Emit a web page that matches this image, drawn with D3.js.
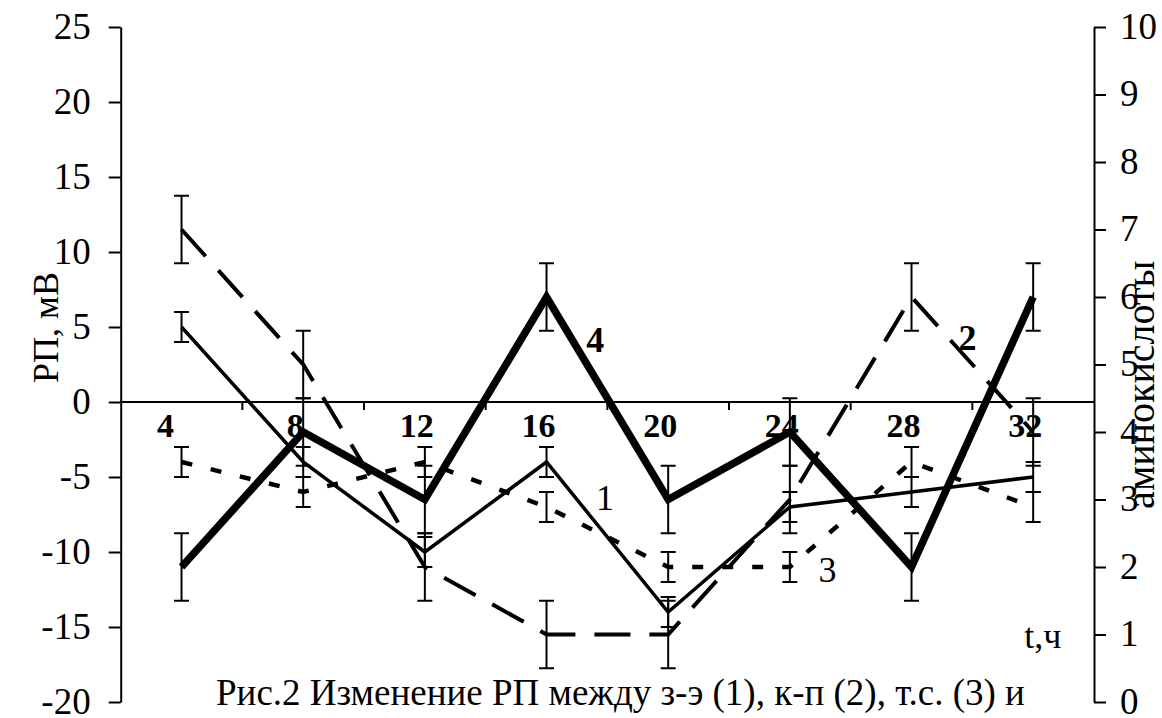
<!DOCTYPE html>
<html><head><meta charset="utf-8">
<script src="https://cdn.jsdelivr.net/npm/d3@7"></script>
<style>
body{margin:0;background:#fff;}
svg text{font-family:"Liberation Serif","Times New Roman",serif;fill:#000;}
</style></head>
<body><svg id="c" width="1162" height="718"></svg>
<script>
const categories = ["4","8","12","16","20","24","28","32"];
const leftTicks = [-20,-15,-10,-5,0,5,10,15,20,25];
const rightTicks = [0,1,2,3,4,5,6,7,8,9,10];
// series 1 (з-э), left axis, mV
const s1 = [5,-4,-10,-4,-14,-7,-6,-5];
const s1err = [1,1,1,1,1,1,1,1];
// series 2 (к-п), plotted on right axis scale
const s2 = [7,5,2,1,1,3,6,4];
const s2err = [0.5,0.5,0.5,0.5,0.5,0.5,0.5,0.5];
// series 3 (т.с.), left axis
const s3 = [-4,-6,-4,-7,-11,-11,-4,-7];
const s3err = [1,1,1,1,1,1,1,1];
// series 4 (аминокислоты), right axis
const s4 = [2,4,3,6,3,4,2,6];
const s4err = [0.5,0.5,0.5,0.5,0.5,0.5,0.5,0.5];

const svg = d3.select("#c");
const L = 120.7, R = 1094, T = 27, B = 702;
const x = d3.scaleBand().domain(categories).range([L,R]).padding(0);
const cx = c => x(c) + x.bandwidth()/2;
const xi = d3.scaleLinear().domain([0,7]).range([cx(categories[0]), cx(categories[7])]);
const yL = d3.scaleLinear().domain([-20,25]).range([B,T]);
const yR = d3.scaleLinear().domain([0,10]).range([B,T]);

// left axis
const gl = svg.append("g").attr("transform",`translate(${L},0)`)
  .call(d3.axisLeft(yL).tickValues(leftTicks).tickSize(12).tickSizeOuter(0).tickPadding(18).tickFormat(d=>String(d)));
gl.select(".domain").attr("stroke-width",2);
gl.selectAll(".tick line").attr("stroke-width",2);
gl.selectAll(".tick text").style("font-size","37px").attr("dy","0.31em");

// right axis
const gr = svg.append("g").attr("transform",`translate(${R},0)`)
  .call(d3.axisRight(yR).tickValues(rightTicks).tickSize(12).tickSizeOuter(0).tickPadding(14).tickFormat(d=>String(d)));
gr.select(".domain").attr("stroke-width",2);
gr.selectAll(".tick line").attr("stroke-width",2);
gr.selectAll(".tick text").style("font-size","37px").attr("dy","0.31em");

// zero line + category ticks
const y0 = yL(0);
svg.append("line").attr("x1",L).attr("x2",R).attr("y1",y0).attr("y2",y0).attr("stroke","#000").attr("stroke-width",2);
svg.append("g").selectAll("line").data(categories.slice(1)).join("line")
  .attr("x1",d=>x(d)).attr("x2",d=>x(d)).attr("y1",y0).attr("y2",y0+8)
  .attr("stroke","#000").attr("stroke-width",2);
svg.append("g").selectAll("text").data(categories).join("text")
  .attr("x",(d,i)=>cx(d)-(i===0?16:8)).attr("y",y0+35).attr("text-anchor","middle")
  .style("font-size","34px").style("font-weight","bold").text(d=>d);

// error bars
function errBars(vals, errs, sc){
  const g = svg.append("g").attr("stroke","#000").attr("stroke-width",2);
  vals.forEach((v,i)=>{
    const xc = cx(categories[i]);
    const a = sc(v-errs[i]), b = sc(v+errs[i]);
    g.append("line").attr("x1",xc).attr("x2",xc).attr("y1",a).attr("y2",b);
    g.append("line").attr("x1",xc-7.5).attr("x2",xc+7.5).attr("y1",a).attr("y2",a);
    g.append("line").attr("x1",xc-7.5).attr("x2",xc+7.5).attr("y1",b).attr("y2",b);
  });
}
errBars(s1,s1err,yL);
errBars(s2,s2err,yR);
errBars(s3,s3err,yL);
errBars(s4,s4err,yR);

function drawLine(vals, sc, width, dash){
  const line = d3.line().x((d,i)=>cx(categories[i])).y(d=>sc(d));
  svg.append("path").datum(vals).attr("d",line).attr("fill","none")
    .attr("stroke","#000").attr("stroke-width",width)
    .attr("stroke-dasharray",dash||null).attr("stroke-linejoin","miter");
}
drawLine(s3, yL, 4.5, "11,19");
drawLine(s2, yR, 4, "36,19");
drawLine(s1, yL, 3.5);
drawLine(s4, yR, 7.5);

// series labels
function lab(t, xv, yv, bold){
  svg.append("text").attr("x",xi(xv)).attr("y",yv).attr("text-anchor","middle")
    .style("font-size","36px").style("font-weight",bold?"bold":"normal").text(t);
}
lab("4", 3.40, yR(5.19), true);
lab("1", 3.48, yL(-7.2), false);
lab("2", 6.46, yL(3.47), true);
lab("3", 5.31, yL(-12), false);
lab("t,ч", 7.08, yL(-16.4), false);

// axis titles
svg.append("text").attr("transform",`translate(58,${(yL(5)+yL(0))/2 - 37}) rotate(-90)`)
  .attr("text-anchor","middle").style("font-size","36px").text("РП, мВ");
svg.append("text").attr("transform",`translate(1154,${yR(4.7)}) rotate(-90)`)
  .attr("text-anchor","middle").style("font-size","40px").text("аминокислоты");

// caption
svg.append("text").attr("x",216).attr("y",705).style("font-size","37px")
  .text("Рис.2 Изменение РП между з-э (1), к-п (2), т.с. (3) и");
</script></body></html>
